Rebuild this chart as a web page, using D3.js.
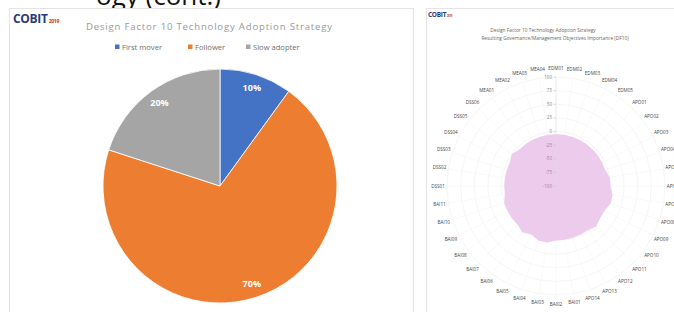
<!DOCTYPE html>
<html>
<head>
<meta charset="utf-8">
<script src="https://cdn.jsdelivr.net/npm/d3@7"></script>
<style>
  html, body { margin: 0; padding: 0; background: #ffffff; }
  svg { display: block; }
  text { font-family: "Open Sans", "Liberation Sans", sans-serif; }
</style>
</head>
<body>
<svg id="chart" width="674" height="312"></svg>
<script>
// ---------- data ----------
const slideTitle = "ogy (cont.)";
const pieTitle = "Design Factor 10 Technology Adoption Strategy";
const pieCategories = ["First mover", "Follower", "Slow adopter"];
const pieValues = [10, 70, 20];

const radarTitleLines = [
  "Design Factor 10 Technology Adoption Strategy",
  "Resulting Governance/Management Objectives Importance (DF10)"
];
const radarCategories = [
  "EDM01","EDM02","EDM03","EDM04","EDM05",
  "APO01","APO02","APO03","APO04","APO05","APO06","APO07","APO08","APO09","APO10","APO11","APO12","APO13","APO14",
  "BAI01","BAI02","BAI03","BAI04","BAI05","BAI06","BAI07","BAI08","BAI09","BAI10","BAI11",
  "DSS01","DSS02","DSS03","DSS04","DSS05","DSS06",
  "MEA01","MEA02","MEA03","MEA04"
];
const radarValues = [
  -5,-5,-5,-5,-5,
  -5,-5,-5,-5,0,0,5,5,0,0,5,0,0,0,
  0,0,5,5,0,5,0,0,0,0,-5,
  -5,-5,-5,-5,0,-5,
  -5,-5,-5,-5
];
const radarTicks = [-100, -75, -50, -25, 0, 25, 50, 75, 100];

// ---------- styles ----------
const pieColors = ["#4472C4", "#ED7D31", "#A5A5A5"];
const svg = d3.select("#chart");

// slide title (cut off at top)
svg.append("text").attr("x", 221).attr("y", 4.5).attr("text-anchor", "end")
  .attr("font-family", "Liberation Sans, Arial, sans-serif")
  .attr("font-size", 26).attr("fill", "#111").text(slideTitle);

// panels
svg.append("rect").attr("x", 9.5).attr("y", 8.5).attr("width", 404).attr("height", 310)
  .attr("fill", "#fff").attr("stroke", "#e4e4e4");
svg.append("rect").attr("x", 426.5).attr("y", 8.5).attr("width", 260).attr("height", 310)
  .attr("fill", "#fff").attr("stroke", "#e4e4e4");

// ---------- left panel ----------
function logo(g, x, y, size) {
  const t = g.append("text").attr("x", x).attr("y", y)
    .attr("font-family", "Liberation Sans, Arial, sans-serif")
    .attr("font-weight", "bold").attr("font-size", size).attr("fill", "#2b3a78")
    .attr("letter-spacing", -0.3);
  t.append("tspan").text("COBIT");
  t.append("tspan").attr("font-size", size * 0.42).attr("fill", "#c0392b").attr("dx", 1).text("2019");
}
logo(svg, 13, 23, 12);

svg.append("text").attr("x", 209).attr("y", 30).attr("text-anchor", "middle")
  .attr("font-size", 9.6).attr("fill", "#999").attr("textLength", 246)
  .text(pieTitle);

// legend
const legendX = [115, 188, 246];
const leg = svg.append("g");
pieCategories.forEach((c, i) => {
  leg.append("rect").attr("x", legendX[i]).attr("y", 44.5).attr("width", 4.5).attr("height", 4.5)
    .attr("fill", pieColors[i]);
  leg.append("text").attr("x", legendX[i] + 7).attr("y", 49.5)
    .attr("font-size", 7.6).attr("fill", "#707070").text(c);
});

// pie
const pcx = 220, pcy = 186, pr = 117;
const pie = d3.pie().sort(null).value(d => d)(pieValues);
const arc = d3.arc().innerRadius(0).outerRadius(pr);
const labelArc = d3.arc().innerRadius(pr * 0.88).outerRadius(pr * 0.88);
const pg = svg.append("g").attr("transform", `translate(${pcx},${pcy})`);
pg.selectAll("path").data(pie).join("path")
  .attr("d", arc).attr("fill", (d, i) => pieColors[i])
  .attr("stroke", "#fff").attr("stroke-width", 0.8);
pg.selectAll("text").data(pie).join("text")
  .attr("transform", d => `translate(${labelArc.centroid(d)})`)
  .attr("text-anchor", "middle").attr("dy", "0.35em")
  .attr("font-size", 9).attr("font-weight", "bold").attr("fill", "#fff")
  .text(d => d.data + "%");

// ---------- right panel ----------
logo(svg, 428, 17, 6.5);
radarTitleLines.forEach((t, i) => {
  svg.append("text").attr("x", i === 0 ? 543 : 555).attr("y", 32 + i * 8)
    .attr("text-anchor", "middle").attr("font-size", 4.8).attr("fill", "#666")
    .text(t);
});

const cx = 556, cy = 186, R = 109;
const rScale = d3.scaleLinear().domain([-100, 100]).range([0, R]);
const angle = d3.scaleLinear().domain([0, radarCategories.length]).range([0, 2 * Math.PI]);
const rg = svg.append("g").attr("transform", `translate(${cx},${cy})`);

// grid polygons
const gridLine = d3.lineRadial().curve(d3.curveLinearClosed)
  .angle((d, i) => angle(i)).radius(d => d);
radarTicks.slice(1).forEach(t => {
  rg.append("path").attr("d", gridLine(radarCategories.map(() => rScale(t))))
    .attr("fill", "none").attr("stroke", "#eeeeee").attr("stroke-width", 0.6);
});
// spokes
radarCategories.forEach((c, i) => {
  const a = angle(i);
  rg.append("line").attr("x1", 0).attr("y1", 0)
    .attr("x2", R * Math.sin(a)).attr("y2", -R * Math.cos(a))
    .attr("stroke", "#f3f3f3").attr("stroke-width", 0.5);
});

// area
const area = d3.lineRadial().curve(d3.curveLinearClosed)
  .angle((d, i) => angle(i)).radius(d => rScale(d));
rg.append("path").attr("d", area(radarValues))
  .attr("fill", "#EDCBEC").attr("stroke", "none");

// value axis
rg.append("line").attr("x1", 0).attr("y1", 0).attr("x2", 0).attr("y2", -R)
  .attr("stroke", "#dddddd").attr("stroke-width", 0.5);
radarTicks.forEach(t => {
  rg.append("line").attr("x1", -2).attr("x2", 0)
    .attr("y1", -rScale(t)).attr("y2", -rScale(t))
    .attr("stroke", "#bbb").attr("stroke-width", 0.5);
  rg.append("text").attr("x", -4).attr("y", -rScale(t)).attr("dy", "0.35em")
    .attr("text-anchor", "end").attr("font-size", 4.5)
    .attr("fill", t <= -25 ? "#b07aa8" : "#888").text(t);
});

// category labels
const labR = 118;
rg.selectAll("text.cat").data(radarCategories).join("text").attr("class", "cat")
  .attr("x", (d, i) => labR * Math.sin(angle(i)))
  .attr("y", (d, i) => -labR * Math.cos(angle(i)))
  .attr("dy", "0.35em").attr("text-anchor", "middle")
  .attr("font-size", 4.6).attr("fill", "#444").text(d => d);
</script>
</body>
</html>
